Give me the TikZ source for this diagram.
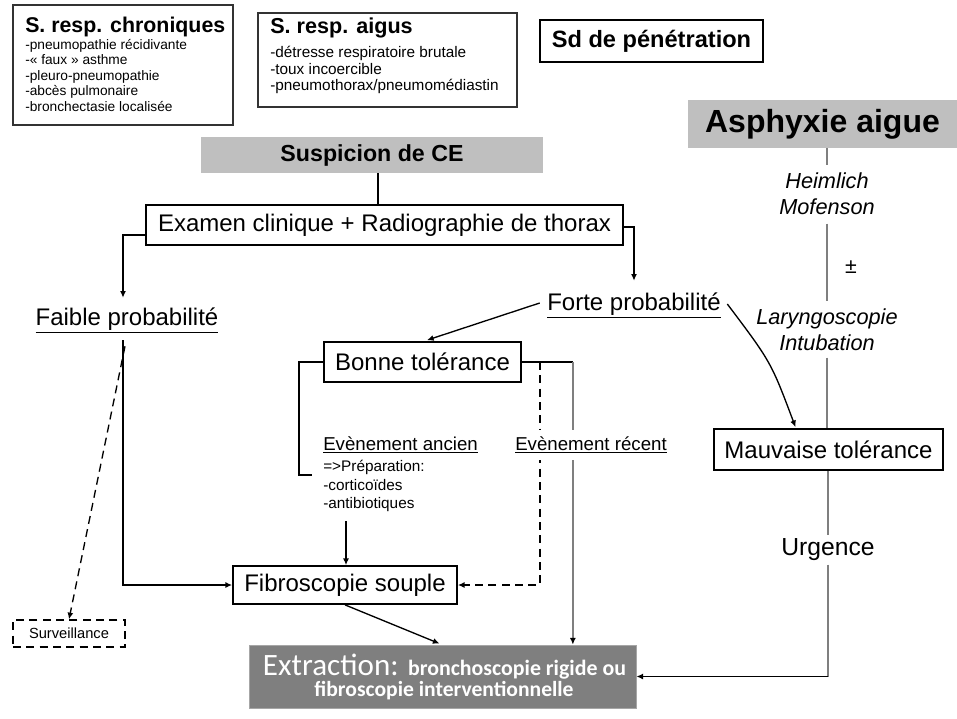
\documentclass[tikz,border=0pt]{standalone}
\usepackage{fontspec}
\setmainfont{Liberation Sans}
\newfontfamily\calib{Carlito}
\usetikzlibrary{arrows.meta,calc,fit}
\definecolor{lightfill}{HTML}{BFBFBF}
\definecolor{darkfill}{HTML}{7F7F7F}
\definecolor{midgrey}{HTML}{7F7F7F}
\definecolor{boxdark}{HTML}{333333}
\newcommand{\fs}[1]{\fontsize{#1}{1.2\dimexpr #1pt\relax}\selectfont}
\begin{document}
\begin{tikzpicture}[x=0.75pt,y=-0.75pt,
  bx/.style={draw=black, line width=1.3pt, inner sep=0pt, fill=white},
  plain/.style={inner sep=1pt},
  big/.style={font=\fs{18}},
  item/.style={anchor=base west, inner sep=0pt},
  ln/.style={line width=1pt, draw=black},
  arr/.style={line width=1pt, draw=black, -{Latex[length=5pt,width=4.5pt]}},
  gln/.style={line width=1.8pt, draw=midgrey},
  dsh/.style={dash pattern=on 6pt off 4pt}
]
\useasboundingbox (0,0) rectangle (957,718);

% top boxes
\node[bx, draw=boxdark, line width=1.7pt, fit={(13,5)(233,125)}] (chron) {};
\node[item, font=\bfseries\fs{16}] (chront) at (25,32) {S. resp. chroniques};
\node[item, font=\fs{10.3}] (c1) at (25,49) {-pneumopathie récidivante};
\node[item, font=\fs{10.3}] (c2) at (25,64.5) {-« faux » asthme};
\node[item, font=\fs{10.3}] (c3) at (25,80) {-pleuro-pneumopathie};
\node[item, font=\fs{10.3}] (c4) at (25,95.5) {-abcès pulmonaire};
\node[item, font=\fs{10.3}] (c5) at (25,111) {-bronchectasie localisée};

\node[bx, draw=boxdark, line width=1.5pt, fit={(258,13)(517,107)}] (aigus) {};
\node[item, font=\bfseries\fs{16.2}] (aigust) at (270,33) {S. resp. aigus};
\node[item, font=\fs{11.5}] (a1) at (270,57.5) {-détresse respiratoire brutale};
\node[item, font=\fs{11.5}] (a2) at (270,74) {-toux incoercible};
\node[item, font=\fs{11.5}] (a3) at (270,90.5) {-pneumothorax/pneumomédiastin};

\node[bx, fit={(540,20)(763,62)}] (sd) {};
\node[plain, font=\bfseries\fs{17.7}] (sdt) at (sd.center) {Sd de pénétration};

\node[fill=lightfill, inner sep=0pt, fit={(688,100)(957,148)}] (asph) {};
\node[plain, font=\bfseries\fs{24}] (asph-t) at (asph.center) {Asphyxie aigue};

\node[fill=lightfill, inner sep=0pt, fit={(201,137)(543,173)}] (susp) {};
\node[plain, font=\bfseries\fs{17.4}] (susp-t) at (susp.center) {Suspicion de CE};

\node[bx, fit={(146,205)(623,245)}] (exam) {};
\node[plain, big] (exam-t) at (exam.center) {Examen clinique + Radiographie de thorax};

\node[plain, big] (faible) at (127,320) {\underline{Faible probabilité}};
\node[plain, big] (forte) at (634,305) {\underline{Forte probabilité}};

\node[bx, fit={(324,342)(521,382)}] (bonne) {};
\node[plain, big] (bonne-t) at (bonne.center) {Bonne tolérance};

\node[item, font=\fs{14}] (ancien) at (323,450) {\underline{Evènement ancien}};
\node[item, font=\fs{11.5}] (prep) at (323,471) {=>Préparation:};
\node[item, font=\fs{11.5}] (cortic) at (323,490) {-corticoïdes};
\node[item, font=\fs{11.5}] (antib) at (323,508) {-antibiotiques};

\node[bx, fit={(233,566)(457,604)}] (fibro) {};
\node[plain, big] (fibro-t) at (fibro.center) {Fibroscopie souple};

\node[bx, line width=1pt, dsh, fit={(13,620)(125,647)}] (surv) {};
\node[plain, font=\fs{11}] (surv-t) at (surv.center) {Surveillance};

\node[bx, fit={(714,429)(943,470)}] (mauv) {};
\node[plain, big] (mauv-t) at (mauv.center) {Mauvaise tolérance};

\node[plain, align=center, font=\itshape\fontsize{16.3}{19.5}\selectfont] (heim) at (827,194) {Heimlich\\Mofenson};
\node[plain, font=\fs{16}] (pm) at (851,267) {±};
\node[plain, align=center, font=\itshape\fontsize{16.3}{19.5}\selectfont] (laryn) at (827,330) {Laryngoscopie\\Intubation};
\node[plain, font=\fs{18.5}] (urg) at (828,550) {Urgence};

\node[fill=darkfill, draw=gray!70, line width=0.6pt, inner sep=0pt, fit={(249,645)(636,708)}] (extr) {};
\node[anchor=base, inner sep=0pt, text=white] (extr1) at (444.5,675) {\calib\fs{23.3}Extraction: \bfseries\fs{16.4}bronchoscopie rigide ou};
\node[anchor=base, inner sep=0pt, text=white, font=\calib\bfseries\fs{16.2}] (extr2) at (444,696) {fibroscopie interventionnelle};

% connectors
\draw[ln] ($(susp.south)+(6,0)$) -- ($(exam.north)+(-6.5,0)$);
\draw[arr] ($(exam.west)+(0,10)$) -| ($(faible.north)+(-4,-8)$);
\draw[arr] ($(exam.east)+(0,2)$) -| ($(forte.north)+(0,-10)$);
\draw[arr] ($(forte.west)+(-6,-2)$) -- ($(bonne.north)+(4.5,-1)$);
\draw[arr] ($(forte.east)+(5,-1)$) .. controls (771,362) .. ($(mauv.north)+(-33,-1)$);
\draw[ln] (bonne.west) -- ++(-24,0) -- ++(0,113) -- ++(13,0);
\draw[arr] ($(antib.south -| fibro.north)+(1,10)$) -- ($(fibro.north)+(1,0)$);
\draw[arr] ($(faible.south)+(-4,6)$) |- (fibro.west);
\draw[arr, dsh] ($(faible.south)+(-2,12)$) -- (surv.north);

\coordinate (bR) at ($(bonne.east)+(51,0)$);
\coordinate (bD) at ($(bonne.east)+(18,0)$);
\draw[ln] (bonne.east) -- (bR);
\draw[gln] (bR) -- ($(bR |- extr.north)+(0,-6)$);
\draw[arr] ($(bR |- extr.north)+(0,-7)$) -- (bR |- extr.north);
\draw[arr, dsh] (bD) |- (fibro.east);
\node[fill=white, inner xsep=2pt, inner ysep=5pt, font=\fs{14}] (recent) at (591,445) {\underline{Evènement récent}};

\draw[arr] (fibro.south) -- ($(extr.north)+(-3,-1)$);

\draw[gln] (heim.north |- asph.south) -- ($(heim.north)+(0,-6)$);
\draw[gln] ($(heim.south)+(0,7)$) -- ($(laryn.north)+(0,-6)$);
\draw[gln] ($(laryn.south)+(0,5)$) -- (laryn.south |- mauv.north);
\draw[gln] (mauv.south -| urg.north) -- ($(urg.north)+(0,-2)$);
\coordinate (uc) at (urg.south |- extr.east);
\draw[gln] ($(urg.south)+(0,2)$) -- (uc);
\draw[arr] (uc) -- (extr.east);
\end{tikzpicture}
\end{document}
